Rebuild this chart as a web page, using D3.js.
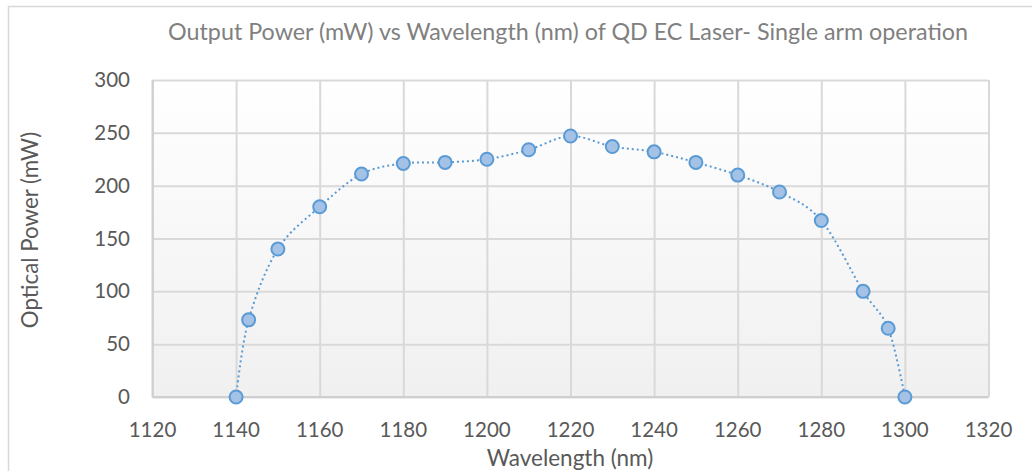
<!DOCTYPE html>
<html lang="en">
<head>
    <meta charset="UTF-8">
    <title>QD EC Laser</title>
    <script src="https://d3js.org/d3.v7.min.js"></script>
    <style>
        body { margin: 0; background: #fff; }
        text { font-family: Lato, "Open Sans", sans-serif; }
    </style>
</head>
<body>
    <script>

        var wavelength = [1140, 1143, 1150, 1160, 1170, 1180, 1190, 1200, 1210, 1220,
                          1230, 1240, 1250, 1260, 1270, 1280, 1290, 1296, 1300];
        var power = [0, 73, 140, 180, 211, 221, 222, 225, 234, 247,
                     237, 232, 222, 210, 194, 167, 100, 65, 0];
        var xTicks = [1120, 1140, 1160, 1180, 1200, 1220, 1240, 1260, 1280, 1300, 1320];
        var yTicks = [0, 50, 100, 150, 200, 250, 300];

        var W = 1032, H = 471;
        var mLeft = 152.5, mRight = 988.5, mTop = 80, mBottom = 397;

        var svg = d3.select("body").append("svg")
            .attr("width", W)
            .attr("height", H);

        // outer chart border
        svg.append("rect")
            .attr("x", 8.5).attr("y", 6.5)
            .attr("width", W + 20).attr("height", H + 20)
            .attr("fill", "#fff")
            .attr("stroke", "#d9d9d9")
            .attr("stroke-width", 1.5);

        var grad = svg.append("defs").append("linearGradient")
            .attr("id", "bg")
            .attr("x1", 0).attr("y1", 0).attr("x2", 0).attr("y2", 1);
        grad.append("stop").attr("offset", "0%").attr("stop-color", "#ffffff");
        grad.append("stop").attr("offset", "100%").attr("stop-color", "#f0f0f0");

        var x = d3.scaleLinear().domain([1120, 1320]).range([mLeft, mRight]);
        var y = d3.scaleLinear().domain([0, 300]).range([mBottom, mTop]);

        svg.append("rect")
            .attr("x", mLeft).attr("y", mTop)
            .attr("width", mRight - mLeft).attr("height", mBottom - mTop)
            .attr("fill", "url(#bg)");

        // gridlines
        svg.append("g")
            .attr("transform", "translate(0," + mBottom + ")")
            .call(d3.axisBottom(x).tickValues(xTicks).tickSize(-(mBottom - mTop)).tickFormat(""))
            .call(function (g) { g.select(".domain").remove(); })
            .selectAll("line").attr("stroke", "#d9d9d9").attr("stroke-width", 2);

        svg.append("g")
            .attr("transform", "translate(" + mLeft + ",0)")
            .call(d3.axisLeft(y).tickValues(yTicks).tickSize(-(mRight - mLeft)).tickFormat(""))
            .call(function (g) { g.select(".domain").remove(); })
            .selectAll("line").attr("stroke", "#d9d9d9").attr("stroke-width", 2);

        // axis lines
        svg.append("line")
            .attr("x1", mLeft).attr("x2", mLeft).attr("y1", mTop).attr("y2", mBottom)
            .attr("stroke", "#cfcfcf").attr("stroke-width", 2);
        svg.append("line")
            .attr("x1", mLeft).attr("x2", mRight).attr("y1", mBottom).attr("y2", mBottom)
            .attr("stroke", "#cfcfcf").attr("stroke-width", 2);

        // tick labels
        svg.append("g").selectAll("text")
            .data(xTicks)
            .enter().append("text")
            .attr("x", function (d) { return x(d); })
            .attr("y", mBottom + 40)
            .attr("text-anchor", "middle")
            .attr("font-size", 20.5)
            .attr("fill", "#595959")
            .text(function (d) { return d; });

        svg.append("g").selectAll("text")
            .data(yTicks)
            .enter().append("text")
            .attr("x", 130)
            .attr("y", function (d) { return y(d) + 7; })
            .attr("text-anchor", "end")
            .attr("font-size", 20.5)
            .attr("fill", "#595959")
            .text(function (d) { return d; });

        // titles
        svg.append("text")
            .attr("x", 568).attr("y", 40)
            .attr("text-anchor", "middle")
            .attr("font-size", 23.3)
            .attr("fill", "#808080")
            .text("Output Power (mW) vs Wavelength (nm) of QD EC Laser- Single arm operation");

        svg.append("text")
            .attr("x", 570).attr("y", 466)
            .attr("text-anchor", "middle")
            .attr("font-size", 22.5)
            .attr("fill", "#595959")
            .text("Wavelength (nm)");

        svg.append("text")
            .attr("transform", "translate(38,230) rotate(-90)")
            .attr("text-anchor", "middle")
            .attr("font-size", 22.3)
            .attr("fill", "#595959")
            .text("Optical Power (mW)");

        // series
        var pts = wavelength.map(function (w, i) { return [w, power[i]]; });

        var line = d3.line()
            .x(function (d) { return x(d[0]); })
            .y(function (d) { return y(d[1]); })
            .curve(d3.curveCardinal.tension(0));

        svg.append("path")
            .datum(pts)
            .attr("d", line)
            .attr("fill", "none")
            .attr("stroke", "#5b9bd5")
            .attr("stroke-width", 2)
            .attr("stroke-dasharray", "2,3");

        svg.append("g").selectAll("circle")
            .data(pts)
            .enter().append("circle")
            .attr("cx", function (d) { return x(d[0]); })
            .attr("cy", function (d) { return y(d[1]); })
            .attr("r", 6.5)
            .attr("fill", "#a3c2e6")
            .attr("stroke", "#5b9bd5")
            .attr("stroke-width", 2);

    </script>
</body>
</html>
